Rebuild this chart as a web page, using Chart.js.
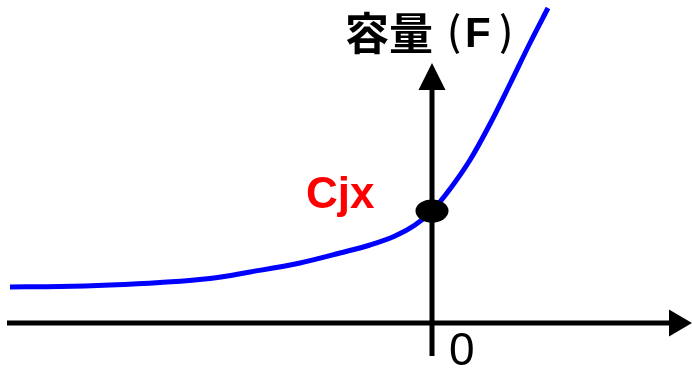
<!DOCTYPE html>
<html>

<head>
    <meta charset="utf-8" />
    <title>容量</title>
    <style>
        html, body { margin: 0; padding: 0; background: #ffffff; }
        #wrap { width: 692px; height: 368px; }
    </style>
</head>

<body>

    <div id="wrap">
        <canvas id="chart" width="692" height="368"></canvas>
    </div>

    <script src="https://cdn.jsdelivr.net/npm/chart.js"></script>
    <script type="text/javascript">

        // curve (x = voltage side, y = capacitance), origin at the axes crossing
        var voltaje = [-422, -372, -322, -272, -222, -182, -132, -92, -62, -37, -17, 0, 18, 38, 58, 78, 98, 116];
        var capacidad = [36, 36.5, 38, 40.5, 44.5, 51, 60, 70, 78, 87, 98, 112, 134, 163, 199, 239, 280, 315];

        // point marked Cjx (value at 0 V)
        var puntoCjx = [0, 112];

        var rangoX = [-432, 260];
        var rangoY = [-45, 323];

        var etiquetaY = ['容量', '(', 'F', ')'];
        var etiquetaPunto = 'Cjx';
        var etiquetaOrigen = '0';

        var puntos = voltaje.map(function (v, i) { return { x: v, y: capacidad[i] }; });

        function flecha(ctx, x1, y1, x2, y2, base, mitad) {
            var ang = Math.atan2(y2 - y1, x2 - x1);
            var bx = x2 - Math.cos(ang) * base;
            var by = y2 - Math.sin(ang) * base;
            ctx.beginPath();
            ctx.moveTo(x1, y1);
            ctx.lineTo(bx, by);
            ctx.stroke();
            ctx.beginPath();
            ctx.moveTo(x2, y2);
            ctx.lineTo(bx + Math.sin(ang) * mitad, by - Math.cos(ang) * mitad);
            ctx.lineTo(bx - Math.sin(ang) * mitad, by + Math.cos(ang) * mitad);
            ctx.closePath();
            ctx.fill();
        }

        // draws text so that its ink box starts at (izq, arriba)
        function texto(ctx, t, fuente, izq, arriba) {
            ctx.font = fuente;
            var m = ctx.measureText(t);
            ctx.fillText(t, izq + m.actualBoundingBoxLeft, arriba + m.actualBoundingBoxAscent);
        }

        var ejes = {
            id: 'ejes',
            beforeDatasetsDraw: function (chart) {
                var ctx = chart.ctx;
                var sx = chart.scales.x, sy = chart.scales.y;
                var x0 = sx.getPixelForValue(0), y0 = sy.getPixelForValue(0);
                ctx.save();
                ctx.strokeStyle = '#000000';
                ctx.fillStyle = '#000000';
                ctx.lineWidth = 5;
                // horizontal axis
                flecha(ctx, sx.getPixelForValue(-425), y0, sx.getPixelForValue(260), y0, 23, 13.5);
                // vertical axis
                flecha(ctx, x0, sy.getPixelForValue(-33), x0, sy.getPixelForValue(260), 27, 13.5);
                ctx.restore();
            },
            afterDatasetsDraw: function (chart) {
                var ctx = chart.ctx;
                var sx = chart.scales.x, sy = chart.scales.y;
                var px = sx.getPixelForValue(puntoCjx[0]);
                var py = sy.getPixelForValue(puntoCjx[1]);
                var x0 = sx.getPixelForValue(0), y0 = sy.getPixelForValue(0);
                ctx.save();
                ctx.fillStyle = '#000000';
                ctx.beginPath();
                ctx.ellipse(px, py, 16.5, 11.5, 0, 0, Math.PI * 2);
                ctx.fill();

                ctx.textAlign = 'left';
                ctx.textBaseline = 'alphabetic';

                // axis title
                texto(ctx, etiquetaY[0], 'bold 44px "Noto Sans CJK JP"', x0 - 86, 11);
                texto(ctx, etiquetaY[1], '500 40px "Noto Sans CJK JP"', x0 + 18, 13);
                texto(ctx, etiquetaY[2], 'bold 42px "Liberation Sans"', x0 + 35, 18);
                texto(ctx, etiquetaY[3], '500 40px "Noto Sans CJK JP"', x0 + 68, 13);

                // Cjx label
                ctx.fillStyle = '#ff0000';
                texto(ctx, etiquetaPunto, 'bold 44px "Liberation Sans"', px - 125, py - 35);

                // origin
                ctx.fillStyle = '#000000';
                texto(ctx, etiquetaOrigen, '46px "Liberation Sans"', x0 + 18, y0 + 10);
                ctx.restore();
            }
        };

        var myChart = new Chart(document.getElementById('chart').getContext('2d'), {
            type: 'scatter',
            data: {
                datasets: [{
                    data: puntos,
                    showLine: true,
                    borderColor: '#0000ff',
                    borderWidth: 5,
                    pointRadius: 0,
                    cubicInterpolationMode: 'monotone',
                    fill: false
                }]
            },
            options: {
                responsive: false,
                animation: false,
                layout: { padding: 0 },
                plugins: {
                    legend: { display: false },
                    tooltip: { enabled: false },
                    title: { display: false }
                },
                scales: {
                    x: { type: 'linear', display: false, min: rangoX[0], max: rangoX[1] },
                    y: { type: 'linear', display: false, min: rangoY[0], max: rangoY[1] }
                }
            },
            plugins: [ejes]
        });
    </script>

</body>

</html>
